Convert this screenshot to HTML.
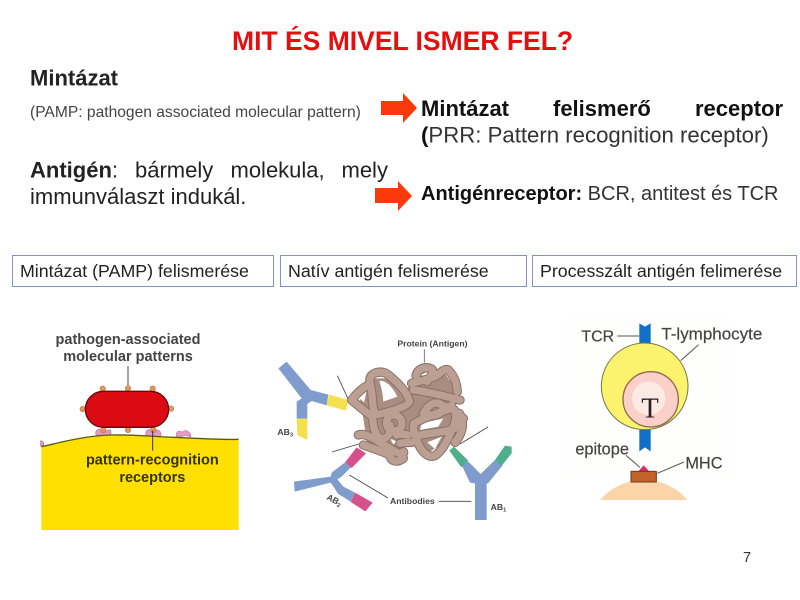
<!DOCTYPE html>
<html><head><meta charset="utf-8"><style>
html,body{margin:0;padding:0;background:#fff}
#p{position:relative;width:800px;height:600px;overflow:hidden;background:#fff}
svg{position:absolute;left:0;top:0}
svg text{font-family:"Liberation Sans",sans-serif}
.soft{filter:blur(.5px)}
</style></head><body><div id="p">
<svg width="800" height="600" viewBox="0 0 800 600">
<!-- Arrows -->
<polygon points="381,101 403,101 403,93 417,108 403,123 403,115 381,115" fill="#fb3a0b"/>
<polygon points="375,188 398,188 398,181 412,196 398,211 398,203 375,203" fill="#fb3a0b"/>

<!-- Heading and body text -->
<text x="232" y="50" font-size="26.500" font-weight="700" fill="#e60f0f">MIT ÉS MIVEL ISMER FEL?</text>
<text x="30" y="85.500" font-size="22" font-weight="700" fill="#222">Mintázat</text>
<text x="30" y="117" font-size="15.600" fill="#444">(PAMP: pathogen associated molecular pattern)</text>
<g font-size="22" fill="#222">
<text x="30" y="177.500"><tspan font-weight="700">Antigén</tspan>:</text>
<text x="135" y="177.500">bármely</text>
<text x="230.500" y="177.500">molekula,</text>
<text x="341.500" y="177.500">mely</text>
<text x="30" y="204">immunválaszt indukál.</text>
</g>
<g font-size="22" font-weight="700" fill="#111">
<text x="421" y="116">Mintázat</text>
<text x="553" y="116">felismerő</text>
<text x="695" y="116">receptor</text>
</g>
<text x="421" y="142.500" font-size="22.200" fill="#333"><tspan font-weight="700" fill="#111">(</tspan>PRR: Pattern recognition receptor)</text>
<text x="421" y="200" font-size="20" fill="#333"><tspan font-weight="700" fill="#111">Antigénreceptor:</tspan> BCR, antitest és TCR</text>

<!-- Heading boxes -->
<g fill="#fff" stroke="#7f93c4" stroke-width="1">
<rect x="12.500" y="255.500" width="261" height="31"/>
<rect x="280.500" y="255.500" width="246" height="31"/>
<rect x="532.500" y="255.500" width="264" height="31"/>
</g>
<g font-size="17.800" fill="#222">
<text x="20" y="277">Mintázat (PAMP) felismerése</text>
<text x="288" y="277">Natív antigén felismerése</text>
<text x="540" y="277">Processzált antigén felimerése</text>
</g>
<text x="743" y="562" font-size="14.500" fill="#333">7</text>

<!-- Panel 1 -->
<g class="soft" transform="translate(20,320) scale(.33333)">
<path d="M62,362 c8,2 12,8 8,14 l-8,2z" fill="#e39ac4" stroke="#a86a90" stroke-width="2"/>
<path d="M228,345 c-4,-14 6,-20 14,-16 c8,4 20,4 26,0 c4,-2 8,10 2,20z" fill="#e39ac4" stroke="#b978a0" stroke-width="2"/>
<path d="M378,348 c-4,-16 6,-22 14,-18 l16,0 c10,-2 18,8 14,20z" fill="#e39ac4" stroke="#b978a0" stroke-width="2"/>
<path d="M470,350 c-4,-10 2,-18 10,-16 c4,2 6,4 10,0 c6,-4 12,-2 16,2 c6,4 8,10 6,14 c-6,2 -10,-4 -14,-4 c-6,0 -8,4 -14,4 c-6,0 -10,4 -14,0z" fill="#e39ac4" stroke="#b978a0" stroke-width="2"/>
<path d="M64,380 C120,368 190,348 270,345 C340,343 400,350 460,352 C520,354 590,360 656,358 L656,630 L64,630Z" fill="#ffe000"/>
<path d="M64,380 C120,368 190,348 270,345 C340,343 400,350 460,352 C520,354 590,360 656,358" fill="none" stroke="#5a5a14" stroke-width="4"/>
<g fill="#e8975c" stroke="#b3733f" stroke-width="2">
<circle cx="248" cy="206" r="8"/><circle cx="324" cy="205" r="8"/><circle cx="398" cy="206" r="8"/>
<circle cx="188" cy="267" r="8"/><circle cx="453" cy="266" r="8"/>
<circle cx="250" cy="330" r="8"/><circle cx="324" cy="330" r="8"/><circle cx="400" cy="330" r="8"/>
</g>
<rect x="196" y="214" width="250" height="108" rx="54" fill="#dc0a12" stroke="#5e1010" stroke-width="4"/>
<path d="M324,138 V196" stroke="#777" stroke-width="4"/>
<path d="M398,332 V392" stroke="#333" stroke-width="3"/>
<g font-weight="700" font-size="43.500" fill="#444" text-anchor="middle">
<text x="324" y="72">pathogen-associated</text>
<text x="324" y="123">molecular patterns</text>
<text x="397" y="433" fill="#33330c">pattern-recognition</text>
<text x="397" y="486" fill="#33330c">receptors</text>
</g>
</g>

<!-- Panel 2 -->
<g class="soft" transform="translate(260,320) scale(.33333)">
<polygon points="55,145 80,125 152,210 205,224 200,256 155,243 142,252 142,296 110,296 110,245 125,235" fill="#7f9ccc"/>
<polygon points="207,224 265,240 258,272 200,256" fill="#f4e04e"/>
<polygon points="110,296 142,296 142,360 112,345" fill="#f4e04e"/>
<polygon points="258,425 275,440 245,470 232,478 250,500 285,518 272,545 235,522 212,488 104,515 102,485 212,470 215,458" fill="#7f9ccc"/>
<polygon points="290,382 318,400 275,444 256,426" fill="#d6508c"/>
<polygon points="285,518 338,548 316,574 272,546" fill="#d6508c"/>
<polygon points="600,425 625,425 662,462 705,420 728,436 684,490 680,490 680,600 645,600 645,490 630,488" fill="#7f9ccc"/>
<polygon points="568,392 582,380 625,422 604,442" fill="#4fae8c"/>
<polygon points="735,377 755,380 755,400 725,437 705,420" fill="#4fae8c"/>
<g stroke="#444" stroke-width="2.500" fill="none">
<path d="M232,167 L264,236"/><path d="M216,396 L296,372"/><path d="M684,321 L600,372"/>
<path d="M493,88 V128" stroke="#666"/><path d="M268,465 L384,534"/><path d="M536,544 H634"/>
</g>
<g font-weight="700" font-size="26" fill="#444">
<text x="412" y="80">Protein (Antigen)</text>
<text x="390" y="552">Antibodies</text>
<text x="52" y="345">AB<tspan font-size="17" dy="4">3</tspan></text>
<text x="692" y="570">AB<tspan font-size="17" dy="4">1</tspan></text>
<text x="198" y="537" transform="rotate(28 198 537)">AB<tspan font-size="17" dy="4">2</tspan></text>
</g>
</g>

<!-- Protein -->
<g class="soft" transform="translate(340,355) scale(.33333)">
<polygon points="60,135 100,70 150,70 195,110 225,70 250,50 315,55 345,100 350,200 320,260 270,290 240,265 195,265 165,305 80,260 70,190" fill="#a98d81"/>
<g fill="#fff">
<path d="M118,78 C140,75 160,100 172,125 L130,140 C128,110 122,90 118,78Z"/>
<path d="M245,58 L265,50 L262,72 L248,78Z"/>
<path d="M245,205 L310,190 L295,215 L240,225Z"/>
<path d="M262,262 L305,245 L285,282Z"/>
<path d="M150,250 L170,260 L160,268Z"/>
<path d="M60,130 L80,108 L72,142Z"/>
<path d="M172,290 L185,292 L178,308Z"/>
<path d="M322,150 L340,148 L335,165Z"/>
</g>
<g fill="none" stroke-linecap="round" stroke-linejoin="round" stroke="#8a6f64" stroke-width="28">
<path d="M35,135 C50,115 65,100 85,90 M40,140 C60,155 80,175 100,185 M55,240 C80,230 120,265 170,292 C180,298 195,298 190,290 M70,270 C100,280 130,290 150,300 C150,318 170,325 190,310 M215,85 C240,78 270,72 290,62 C300,55 315,38 325,45 C340,60 350,80 352,110 M228,62 C232,42 255,32 275,42 C285,50 270,65 262,80 M220,105 C270,110 320,125 360,135 M358,175 C372,200 372,230 345,262 M240,240 C280,232 320,232 345,220 C360,210 365,200 370,190 M250,175 C265,150 285,135 305,150 C320,160 335,155 335,150 M262,178 C280,185 295,180 305,170 M222,205 C250,190 300,170 335,160 C350,165 350,190 340,215 C325,250 310,285 285,302 C265,310 245,290 235,265 C228,245 215,220 222,205Z M150,182 C170,175 190,190 185,210 C180,232 155,232 145,220 C135,205 140,190 150,182 M90,70 C95,50 130,45 145,60 C175,85 205,115 208,140 C205,155 150,170 115,178 C100,178 98,150 96,120 C94,100 88,85 90,70Z M95,175 C100,200 100,235 118,248 C140,258 155,235 150,210 M170,240 C185,235 195,238 205,240 M180,265 C195,262 205,262 215,262"/>
</g>
<g fill="none" stroke-linecap="round" stroke-linejoin="round" stroke="#bc9f93" stroke-width="22">
<path d="M35,135 C50,115 65,100 85,90 M40,140 C60,155 80,175 100,185 M55,240 C80,230 120,265 170,292 C180,298 195,298 190,290 M70,270 C100,280 130,290 150,300 C150,318 170,325 190,310 M215,85 C240,78 270,72 290,62 C300,55 315,38 325,45 C340,60 350,80 352,110 M228,62 C232,42 255,32 275,42 C285,50 270,65 262,80 M220,105 C270,110 320,125 360,135 M358,175 C372,200 372,230 345,262 M240,240 C280,232 320,232 345,220 C360,210 365,200 370,190 M250,175 C265,150 285,135 305,150 C320,160 335,155 335,150 M262,178 C280,185 295,180 305,170 M222,205 C250,190 300,170 335,160 C350,165 350,190 340,215 C325,250 310,285 285,302 C265,310 245,290 235,265 C228,245 215,220 222,205Z M150,182 C170,175 190,190 185,210 C180,232 155,232 145,220 C135,205 140,190 150,182 M90,70 C95,50 130,45 145,60 C175,85 205,115 208,140 C205,155 150,170 115,178 C100,178 98,150 96,120 C94,100 88,85 90,70Z M95,175 C100,200 100,235 118,248 C140,258 155,235 150,210 M170,240 C185,235 195,238 205,240 M180,265 C195,262 205,262 215,262"/>
</g>
</g>

<!-- Panel 3 -->
<g class="soft" transform="translate(550,310) scale(.33333)">
<rect x="40" y="25" width="500" height="480" fill="#fefefc"/>
<path d="M268,40 L285,50 L302,40 V120 H268Z" fill="#0f6fc9"/>
<path d="M268,350 H302 V424 L285,412 L268,424Z" fill="#0f6fc9"/>
<circle cx="284" cy="229" r="130" fill="#fbf36e" stroke="#77774a" stroke-width="3"/>
<circle cx="302" cy="268" r="83" fill="#fbd0c8" stroke="#8f6a50" stroke-width="4"/>
<circle cx="296" cy="265" r="50" fill="#fdeae4"/>
<text x="300" y="322" font-size="86" fill="#222" text-anchor="middle" style="font-family:'Liberation Serif',serif">T</text>
<path d="M150,570 C190,525 240,510 285,510 C330,510 380,530 412,570Z" fill="#fbd5a8"/>
<path d="M265,484 L281,466 L298,484Z" fill="#d82c6c"/>
<rect x="243" y="484" width="76" height="32" fill="#c0622a" stroke="#6a3a1a" stroke-width="3"/>
<g stroke="#555" stroke-width="3" fill="none">
<path d="M202,78 H268"/><path d="M392,152 L446,104"/><path d="M228,436 L270,472"/><path d="M322,490 L402,456"/>
</g>
<g font-size="48" fill="#444" stroke="#444" stroke-width=".6">
<text x="94" y="94">TCR</text>
<text x="334" y="88" font-size="51">T-lymphocyte</text>
<text x="76" y="434" font-size="49">epitope</text>
<text x="406" y="476" font-size="49">MHC</text>
</g>
</g>
</svg>
</div></body></html>
